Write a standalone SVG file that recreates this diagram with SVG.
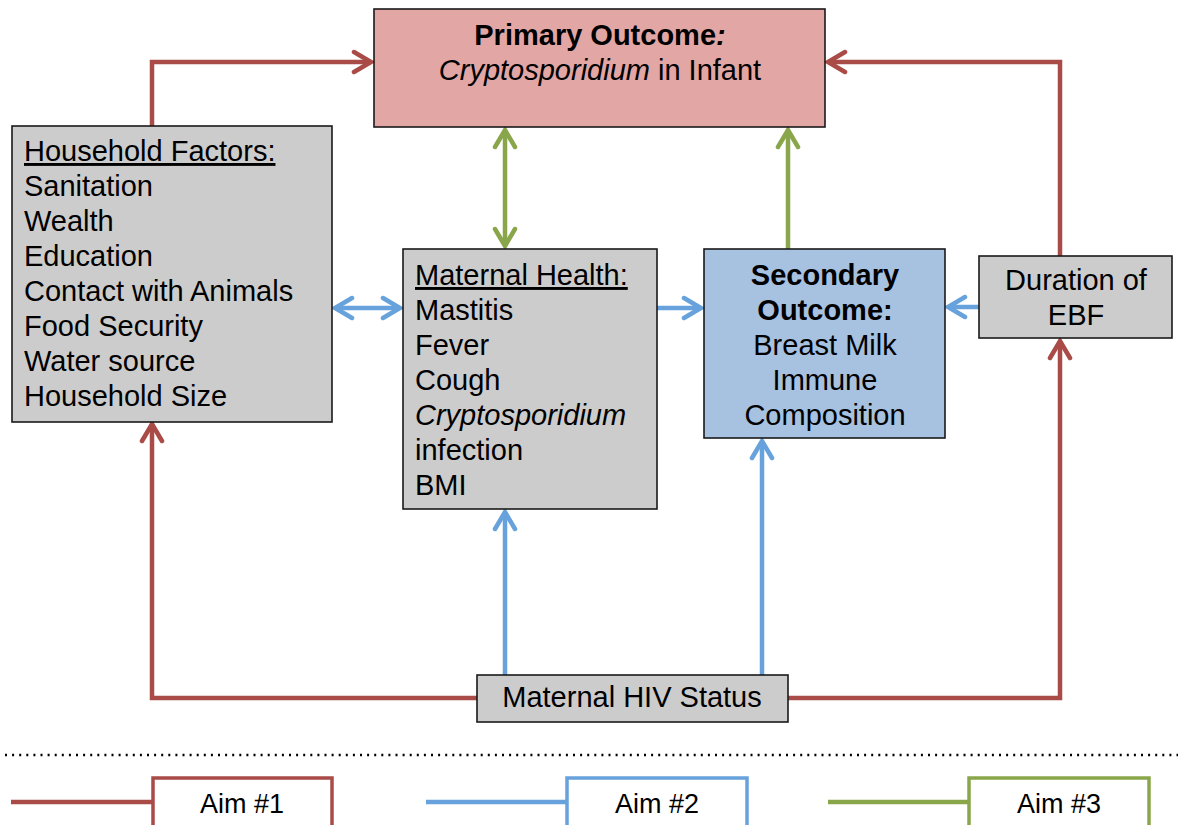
<svg xmlns="http://www.w3.org/2000/svg" width="1178" height="825" viewBox="0 0 1178 825">
<style>
text{font-family:"Liberation Sans",Arial,sans-serif;font-size:29px;fill:#000}
.box{stroke:#1a1a1a;stroke-width:1.6}
.gray{fill:#cccccc}
.c{text-anchor:middle}
.b{font-weight:bold}
.i{font-style:italic}
.u{text-decoration:underline}
.red{stroke:#a94b47;stroke-width:4.5;fill:none}
.blue{stroke:#67a2dc;stroke-width:4.5;fill:none}
.green{stroke:#8aa64b;stroke-width:4.5;fill:none}
.leg{fill:#fff;stroke-width:3.5}
.lt{font-size:27px}
</style>
<defs>
<marker id="ar" markerUnits="userSpaceOnUse" viewBox="-22 -14 26 28" refX="0" refY="0" markerWidth="26" markerHeight="28" orient="auto-start-reverse"><path d="M-17,-10 L0,0 L-17,10" fill="none" stroke="#a94b47" stroke-width="4.5" stroke-linecap="round" stroke-linejoin="miter"/></marker>
<marker id="ab" markerUnits="userSpaceOnUse" viewBox="-22 -14 26 28" refX="0" refY="0" markerWidth="26" markerHeight="28" orient="auto-start-reverse"><path d="M-17,-10 L0,0 L-17,10" fill="none" stroke="#67a2dc" stroke-width="4.5" stroke-linecap="round"/></marker>
<marker id="ag" markerUnits="userSpaceOnUse" viewBox="-22 -14 26 28" refX="0" refY="0" markerWidth="26" markerHeight="28" orient="auto-start-reverse"><path d="M-17,-10 L0,0 L-17,10" fill="none" stroke="#8aa64b" stroke-width="4.5" stroke-linecap="round"/></marker>
</defs>
<g id="connectors">
<path class="red" d="M152,126 V62 H371" marker-end="url(#ar)"/>
<path class="red" d="M1060,256 V62 H828" marker-end="url(#ar)"/>
<path class="red" d="M477,698 H152 V424" marker-end="url(#ar)"/>
<path class="red" d="M788,698 H1060 V341" marker-end="url(#ar)"/>
<path class="green" d="M505,130 V246" marker-start="url(#ag)" marker-end="url(#ag)"/>
<path class="green" d="M788,249 V130" marker-end="url(#ag)"/>
<path class="blue" d="M335,308 H400" marker-start="url(#ab)" marker-end="url(#ab)"/>
<path class="blue" d="M657,308 H701" marker-end="url(#ab)"/>
<path class="blue" d="M979,307 H948" marker-end="url(#ab)"/>
<path class="blue" d="M505,675 V512" marker-end="url(#ab)"/>
<path class="blue" d="M762,675 V441" marker-end="url(#ab)"/>
</g>
<g id="primary">
<rect class="box" x="374" y="9" width="451" height="118" fill="#e2a6a5"/>
<text class="c" x="600" y="45"><tspan class="b">Primary Outcome</tspan><tspan class="b i">:</tspan></text>
<text class="c" x="600" y="80"><tspan class="i">Cryptosporidium</tspan> in Infant</text>
</g>
<g id="household">
<rect class="box gray" x="12" y="126" width="320" height="296"/>
<text x="24" y="161" class="u">Household Factors:</text>
<text x="24" y="196">Sanitation</text>
<text x="24" y="231">Wealth</text>
<text x="24" y="266">Education</text>
<text x="24" y="301">Contact with Animals</text>
<text x="24" y="336">Food Security</text>
<text x="24" y="371">Water source</text>
<text x="24" y="406">Household Size</text>
</g>
<g id="maternal-health">
<rect class="box gray" x="403" y="249" width="254" height="260"/>
<text x="415" y="285" class="u">Maternal Health:</text>
<text x="415" y="320">Mastitis</text>
<text x="415" y="355">Fever</text>
<text x="415" y="390">Cough</text>
<text x="415" y="425" class="i">Cryptosporidium</text>
<text x="415" y="460">infection</text>
<text x="415" y="495">BMI</text>
</g>
<g id="secondary">
<rect class="box" x="704" y="249" width="241" height="189" fill="#a7c1e1"/>
<text class="c b" x="825" y="285">Secondary</text>
<text class="c b" x="825" y="320">Outcome:</text>
<text class="c" x="825" y="355">Breast Milk</text>
<text class="c" x="825" y="390">Immune</text>
<text class="c" x="825" y="425">Composition</text>
</g>
<g id="duration">
<rect class="box gray" x="979" y="256" width="193" height="82"/>
<text class="c" x="1076" y="290">Duration of</text>
<text class="c" x="1076" y="325">EBF</text>
</g>
<g id="hiv">
<rect class="box gray" x="477" y="675" width="311" height="47"/>
<text class="c" x="632" y="707">Maternal HIV Status</text>
</g>
<g id="legend">
<line x1="5" y1="755" x2="1178" y2="755" stroke="#000" stroke-width="2.5" stroke-dasharray="2 5.1"/>
<line x1="11" y1="802" x2="152" y2="802" class="red"/>
<rect class="leg" x="153" y="778" width="179" height="60" stroke="#a94b47"/>
<text class="c lt" x="242" y="813">Aim #1</text>
<line x1="426" y1="802" x2="566" y2="802" class="blue"/>
<rect class="leg" x="567" y="778" width="180" height="60" stroke="#67a2dc"/>
<text class="c lt" x="657" y="813">Aim #2</text>
<line x1="828" y1="802" x2="968" y2="802" class="green"/>
<rect class="leg" x="969" y="778" width="180" height="60" stroke="#8aa64b"/>
<text class="c lt" x="1059" y="813">Aim #3</text>
</g>
</svg>
